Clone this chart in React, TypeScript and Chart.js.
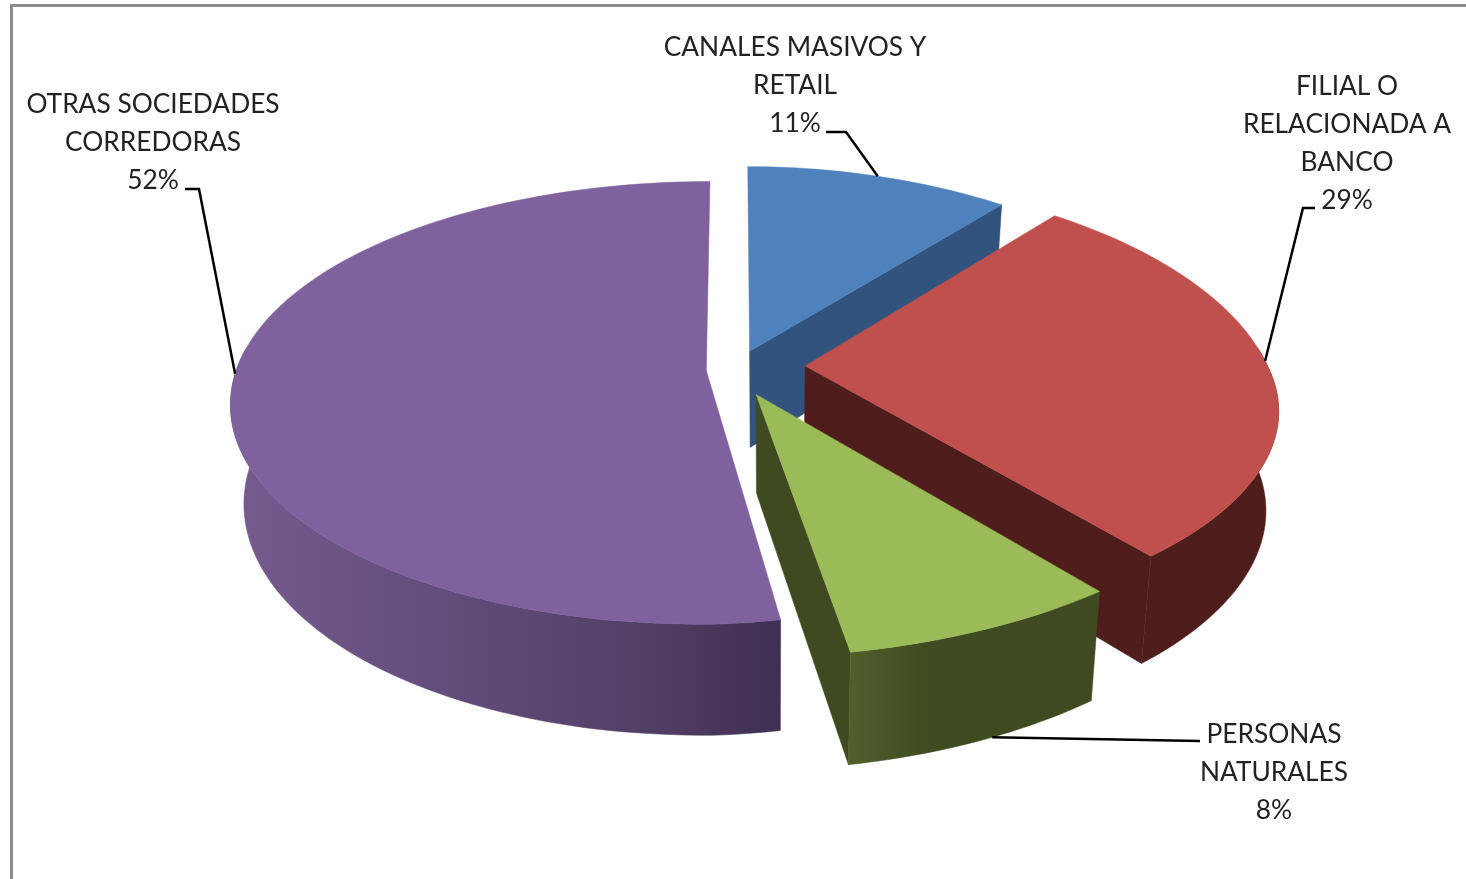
import React, { useEffect, useRef } from "react";
import { Chart, registerables } from "chart.js";

Chart.register(...registerables);

// Market share by distribution channel, in percent.
const categories = [
  ["CANALES MASIVOS Y", "RETAIL"],
  ["FILIAL O", "RELACIONADA A", "BANCO"],
  ["PERSONAS", "NATURALES"],
  ["OTRAS SOCIEDADES", "CORREDORAS"],
];
const shares = [11, 29, 8, 52];
const explodeOffsets = [38, 61, 49, 25];

const topColors = ["#4f81bd", "#c0504d", "#9bbb59", "#7f619e"];
const sideColors = ["#32537d", "#4f1e1c", "#404a20", "#3f2f52"];
const showsEndFace = [true, true, true, false];
const sliceRaise = [0, 5, 0, 0];
const wallStops = [
  [[0, "#32537d"], [1, "#32537d"]],
  [[0, "#4f1e1c"], [1, "#4f1e1c"]],
  [[0, "#525f2d"], [0.3, "#414b21"], [1, "#404a20"]],
  [[0, "#765b8e"], [0.3, "#665080"], [0.75, "#523f66"], [1, "#3f2f52"]],
];

// Ground plane seen in perspective: centre, semi-axes, foreshortening.
const view = { cx: 735, cy: 370, ax: 470, ay: 216.5, k: 0.145 };
// Rim corrections for the near right of the pie.
const rimWarp = { scaleRight: 0.93, shear: 50, lift: 18, reachBase: 0.3, reachOffset: 2 };
// The underside of the pie, relative to the top face.
const base = { vx: 770, sx: 0.975, dy: 77, gy: 0.0545 };
// Outer wall is only painted on the part of the rim nearer than this.
const wallBackLimit = 0.1;

const labelLayout = [
  { x: 795, y: 56, elbow: [[826, 132], [846, 132]], at: 0.5, onBase: false },
  { x: 1347, y: 95, elbow: [[1315, 208], [1303, 208]], at: 0.47, onBase: false },
  { x: 1274, y: 743, elbow: [[1200, 741]], at: 0.45, onBase: true },
  { x: 153, y: 113, elbow: [[185, 189], [199, 189]], at: 0.515, onBase: false },
];
const lineStep = 38;
const labelFont = '26.3px Lato, "Open Sans", sans-serif';
const paintOrder = [0, 1, 2, 3];

function topPoint(nx: number, ny: number) {
  const w = 1 + view.k * ny;
  return [view.cx + (view.ax * nx) / w, view.cy - (view.ay * ny) / w];
}
function underPoint(p: number[]) {
  return [
    base.vx + (p[0] - base.vx) * base.sx,
    p[1] + base.dy + base.gy * p[1],
  ];
}

function sliceGeometry(arc: any, index: number) {
  const { startAngle, endAngle, outerRadius } = arc.getProps(["startAngle", "endAngle", "outerRadius"], true);
  const mid = (startAngle + endAngle) / 2;
  const off = arc.options.offset / outerRadius;
  const ox = off * Math.cos(mid);
  const oy = -off * Math.sin(mid);
  const raise = sliceRaise[index];
  const rim = (angle: number) => {
    const nx = Math.cos(angle);
    const ny = -Math.sin(angle);
    const p = topPoint(ox + (nx > 0 ? nx * rimWarp.scaleRight : nx), oy + ny);
    const reach = Math.min(1, Math.max(0, rimWarp.reachBase + nx + rimWarp.reachOffset * ox));
    p[0] += (rimWarp.shear * (1 - ny) * reach) / 2;
    if (nx > 0 && ny < 0) p[1] -= rimWarp.lift * nx * -ny;
    p[1] -= raise;
    return p;
  };
  const apex = topPoint(ox, oy);
  apex[1] -= raise;
  const steps = Math.max(8, Math.ceil((endAngle - startAngle) * 40));
  const rimPoints: number[][] = [];
  const nearRim: number[][] = [];
  for (let i = 0; i <= steps; i++) {
    const a = startAngle + ((endAngle - startAngle) * i) / steps;
    const p = rim(a);
    rimPoints.push(p);
    if (-Math.sin(a) < wallBackLimit) nearRim.push(p);
  }
  return { apex, rim, rimPoints, nearRim, startAngle, endAngle };
}

function fillPolygon(ctx: CanvasRenderingContext2D, pts: number[][], fill: any) {
  ctx.beginPath();
  pts.forEach((p, i) => (i ? ctx.lineTo(p[0], p[1]) : ctx.moveTo(p[0], p[1])));
  ctx.closePath();
  ctx.fillStyle = fill;
  ctx.fill();
  ctx.strokeStyle = fill;
  ctx.lineWidth = 0.5;
  ctx.stroke();
}

const pie3d = {
  id: "pie3d",
  beforeDraw(chart: any) {
    const { ctx, width, height } = chart;
    ctx.save();
    ctx.fillStyle = "#ffffff";
    ctx.fillRect(0, 0, width, height);
    ctx.fillStyle = "#8c8c8c";
    ctx.fillRect(10, 4, 3, height - 4);
    ctx.fillRect(10, 4, width - 10, 3);
    ctx.restore();
  },
  beforeDatasetsDraw(chart: any) {
    const { ctx } = chart;
    const arcs = chart.getDatasetMeta(0).data;
    ctx.save();
    paintOrder.forEach((i) => {
      const g = sliceGeometry(arcs[i], i);
      const last = g.rimPoints[g.rimPoints.length - 1];
      // Radial face along the slice's closing edge
      if (showsEndFace[i]) {
        fillPolygon(ctx, [g.apex, last, underPoint(last), underPoint(g.apex)], sideColors[i]);
      }
      // Curved outer wall
      if (g.nearRim.length > 1) {
        const lower = g.nearRim.map(underPoint).reverse();
        const wall = g.nearRim.concat(lower);
        const xs = wall.map((p) => p[0]);
        const grad = ctx.createLinearGradient(Math.min(...xs), 0, Math.max(...xs), 0);
        wallStops[i].forEach((s: any) => grad.addColorStop(s[0], s[1]));
        fillPolygon(ctx, wall, grad);
      }
      // Top face
      fillPolygon(ctx, [g.apex, ...g.rimPoints], topColors[i]);
    });
    ctx.restore();
    return false;
  },
  afterDraw(chart: any) {
    const { ctx } = chart;
    const arcs = chart.getDatasetMeta(0).data;
    ctx.save();
    ctx.font = labelFont;
    ctx.textAlign = "center";
    ctx.textBaseline = "alphabetic";
    ctx.fillStyle = "#222222";
    categories.forEach((lines, i) => {
      const l = labelLayout[i];
      [...lines, `${shares[i]}%`].forEach((t, n) => ctx.fillText(t, l.x, l.y + n * lineStep));
      const g = sliceGeometry(arcs[i], i);
      let end = g.rim(g.startAngle + (g.endAngle - g.startAngle) * l.at);
      if (l.onBase) end = underPoint(end);
      ctx.beginPath();
      l.elbow.forEach((p, n) => (n ? ctx.lineTo(p[0], p[1]) : ctx.moveTo(p[0], p[1])));
      ctx.lineTo(end[0], end[1]);
      ctx.strokeStyle = "#000000";
      ctx.lineWidth = 2.5;
      ctx.stroke();
    });
    ctx.restore();
  },
};

export default function App() {
  const ref = useRef<HTMLCanvasElement | null>(null);
  useEffect(() => {
    const chart = new Chart(ref.current as HTMLCanvasElement, {
      type: "pie",
      data: {
        labels: categories.map((c) => c.join(" ")),
        datasets: [
          {
            data: shares,
            backgroundColor: topColors,
            offset: explodeOffsets,
            borderWidth: 0,
          },
        ],
      },
      options: {
        responsive: false,
        animation: false,
        rotation: 0,
        plugins: { legend: { display: false }, tooltip: { enabled: false } },
      },
      plugins: [pie3d],
    } as any);
    return () => chart.destroy();
  }, []);
  return (
    <div style={{ position: "fixed", inset: 0, background: "#fff" }}>
      <canvas ref={ref} width={1466} height={879} style={{ display: "block" }} />
    </div>
  );
}
